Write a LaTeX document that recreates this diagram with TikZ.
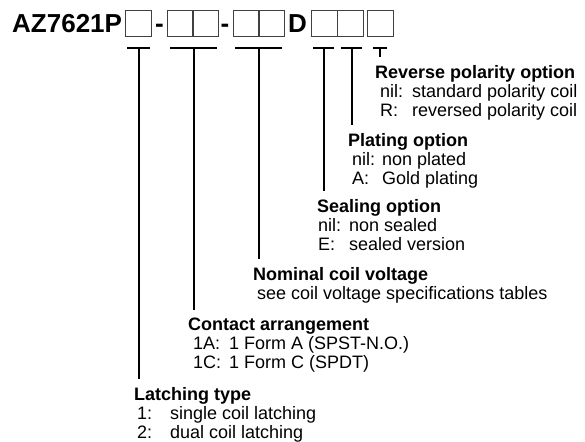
\documentclass[tikz,border=0pt]{standalone}
\usepackage{fontspec}
\setmainfont{Liberation Sans}

\newcommand{\optline}[3][32pt]{\makebox[#1][l]{#2}#3}

\tikzset{
  box/.style={draw=black!75,line width=1pt,minimum width=26pt,minimum height=26pt,inner sep=0pt,anchor=north west},
  tee/.style={line width=2pt},
  head/.style={font=\fontsize{18}{19}\selectfont\bfseries,anchor=base west,inner sep=0pt},
  opt/.style={font=\fontsize{18}{19}\selectfont,anchor=base west,inner sep=0pt},
  big/.style={font=\fontsize{26}{28}\selectfont\bfseries,anchor=base west,inner sep=0pt}
}

\begin{document}
\begin{tikzpicture}[x=1pt,y=-1pt]
  \useasboundingbox (0,0) rectangle (585,441);

  % part number with the boxes
  \node[big] (code) at (12,33) {AZ7621P};
  \node[big,anchor=base] (dash1) at (159.5,33) {-};
  \node[big,anchor=base] (dash2) at (225,33) {-};
  \node[big] (d) at (288,33) {D};
  \foreach \n/\x in {1/125,2/167,3/192,4/233,5/258,6/311,7/337,8/367} {
    \node[box] (b\n) at (\x,10) {};
  }

  % option texts
  \node[head] (rev) at (375,78) {Reverse polarity option};
  \node[opt] (rev1) at (380,97) {\optline{nil:}{standard polarity coil}};
  \node[opt] (rev2) at (380,116) {\optline{R:}{reversed polarity coil}};

  \node[head] (plat) at (348,146) {Plating option};
  \node[opt] (plat1) at (352,165) {\optline[30pt]{nil:}{non plated}};
  \node[opt] (plat2) at (352,184) {\optline[30pt]{A:}{Gold plating}};

  \node[head] (seal) at (317,212) {Sealing option};
  \node[opt] (seal1) at (318,231) {\optline[31pt]{nil:}{non sealed}};
  \node[opt] (seal2) at (318,250) {\optline[31pt]{E:}{sealed version}};

  \node[head] (nom) at (253,280) {Nominal coil voltage};
  \node[opt] (nom1) at (257,299) {see coil voltage specifications tables};

  \node[head] (cont) at (188,330) {Contact arrangement};
  \node[opt] (cont1) at (193,349) {\optline[36pt]{1A:}{1 Form A (SPST-N.O.)}};
  \node[opt] (cont2) at (193,368) {\optline[36pt]{1C:}{1 Form C (SPDT)}};

  \node[head] (lat) at (134,400) {Latching type};
  \node[opt] (lat1) at (137,419) {\optline[33pt]{1:}{single coil latching}};
  \node[opt] (lat2) at (137,438) {\optline[33pt]{2:}{dual coil latching}};

  % markers and leaders
  \foreach \t/\x/\w/\h in {1/138.5/11.5/lat,2/193.5/23.5/cont,3/258.5/23.5/nom,4/323.5/10.5/seal,5/351.5/10.5/plat,6/380/7/rev} {
    \coordinate (t\t) at (\x,48);
    \draw[tee] ([xshift=-\w pt]t\t) -- ([xshift=\w pt]t\t);
    \draw[tee] (t\t) -- ([yshift=7.5pt]t\t |- \h.north);
  }
\end{tikzpicture}
\end{document}
